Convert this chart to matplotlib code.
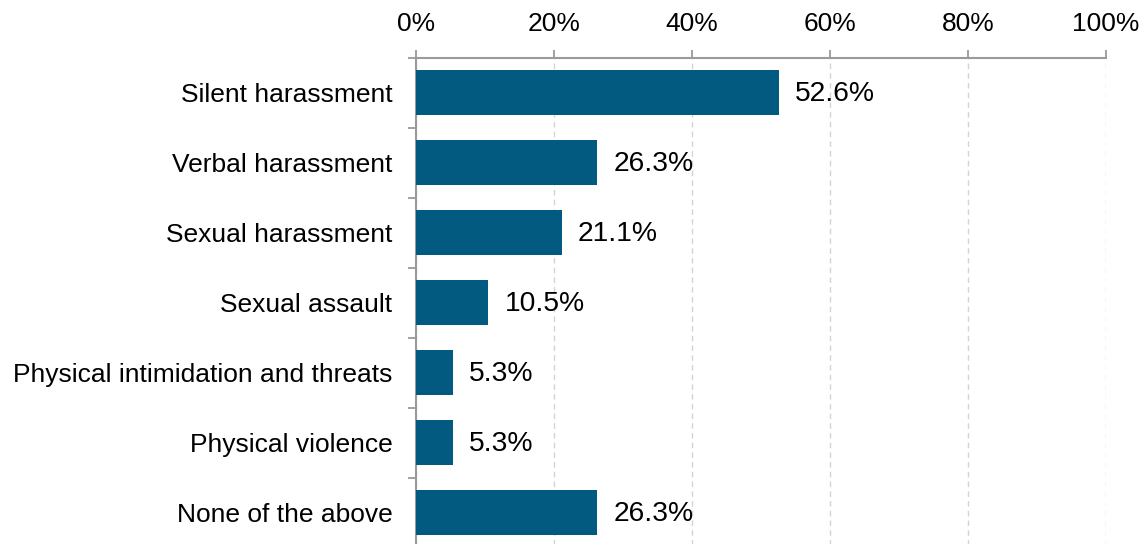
import matplotlib
matplotlib.use("Agg")
import matplotlib.pyplot as plt
from matplotlib.ticker import FixedLocator, PercentFormatter

categories = [
    "Silent harassment",
    "Verbal harassment",
    "Sexual harassment",
    "Sexual assault",
    "Physical intimidation and threats",
    "Physical violence",
    "None of the above",
]
values = [52.6, 26.3, 21.1, 10.5, 5.3, 5.3, 26.3]
x_ticks = [0, 20, 40, 60, 80, 100]

plt.rcParams["font.family"] = ["Liberation Sans", "DejaVu Sans"]

bar_color = "#035A80"
spine_color = "#9a9a9a"
grid_color = "#d4d4d4"

fig = plt.figure(figsize=(11.43, 5.44), dpi=100)
ax = fig.add_axes([416 / 1143, 1 - 547.5 / 544, 690 / 1143, 490 / 544])

y = list(range(len(categories)))
ax.barh(y, values, height=0.645, color=bar_color, zorder=3)

for yi, v in zip(y, values):
    ax.annotate(f"{v:.1f}%", xy=(v, yi), xytext=(11.5, -1),
                textcoords="offset points", va="center", ha="left",
                fontsize=20.3, color="#000000")

ax.set_xlim(0, 100)
ax.set_ylim(len(categories) - 0.5, -0.5)

ax.xaxis.tick_top()
ax.xaxis.set_major_locator(FixedLocator(x_ticks))
ax.xaxis.set_major_formatter(PercentFormatter(decimals=0))
ax.tick_params(axis="x", direction="out", length=5.5, width=1.3,
               color=spine_color, pad=10, labelsize=19)

ax.set_yticks(y)
ax.set_yticklabels(categories)
ax.yaxis.set_minor_locator(FixedLocator([i - 0.5 for i in range(len(categories) + 1)]))
ax.tick_params(axis="y", which="major", length=0, pad=17, labelsize=19)
ax.tick_params(axis="y", which="minor", direction="out", length=5.5,
               width=1.3, color=spine_color)

ax.grid(axis="x", color=grid_color, linestyle=(0, (4, 3)), linewidth=1.0, zorder=0)

for side in ("right", "bottom"):
    ax.spines[side].set_visible(False)
for side in ("top", "left"):
    ax.spines[side].set_color(spine_color)
    ax.spines[side].set_linewidth(1.5)

fig.savefig("out.png", dpi=100)
